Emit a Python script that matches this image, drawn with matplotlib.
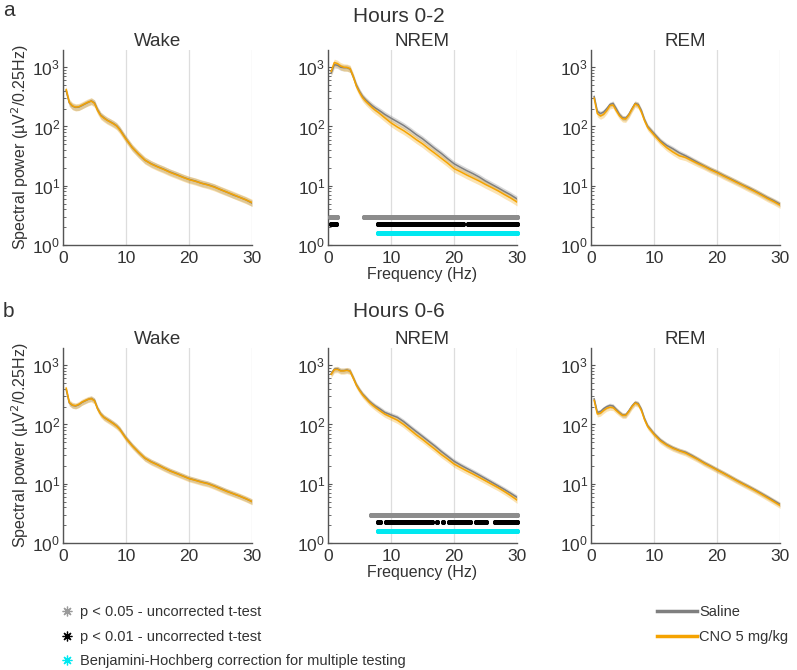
import numpy as np
import matplotlib
matplotlib.use("Agg")
import matplotlib.pyplot as plt
from matplotlib.lines import Line2D

plt.rcParams['font.family'] = ['Liberation Sans', 'DejaVu Sans']

# ---------------- data ----------------
freq = [0.5, 1, 1.5, 2, 2.5, 3, 3.5, 4, 4.5, 5, 5.5, 6, 6.5, 7, 7.5, 8, 8.5, 9,
        10, 11, 12, 13, 14, 15, 16, 17, 18, 19, 20, 21, 22, 23, 24, 25, 26, 27, 28, 29, 30]

wake_a_saline = [400, 250, 220, 210, 212, 225, 240, 255, 270, 250, 190, 155, 140, 128, 120, 112, 103, 90,
                 62, 44, 34, 27, 23.5, 21, 19, 17, 15.5, 14, 12.8, 12, 11, 10.4, 9.6, 8.6, 7.8, 7.0, 6.4, 5.8, 5.1]
wake_a_cno = [420, 255, 222, 212, 215, 228, 243, 258, 268, 245, 185, 152, 138, 127, 119, 111, 102, 88,
              61, 44, 34, 27, 23.3, 20.8, 18.8, 16.8, 15.3, 13.9, 12.7, 11.9, 11, 10.3, 9.5, 8.6, 7.8, 7.1, 6.4, 5.8, 5.2]

nrem_a_saline = [800, 1100, 1080, 1000, 980, 980, 930, 700, 500, 390, 320, 280, 250, 225, 205, 190, 175, 160,
                 138, 120, 104, 88, 73, 62, 51, 42, 35, 28.5, 23.5, 20.5, 18, 16, 14, 12, 10.5, 9.2, 8.0, 7.0, 6.0]
nrem_a_cno = [850, 1200, 1150, 1050, 1000, 990, 950, 700, 480, 375, 305, 265, 235, 208, 188, 172, 155, 140,
              115, 98, 85, 72, 60, 51, 42, 35, 29, 24, 19.5, 17.3, 15.2, 13.5, 12, 10.5, 9.3, 8.2, 7.1, 6.2, 5.3]

rem_a_saline = [320, 180, 165, 175, 200, 235, 245, 200, 160, 140, 138, 160, 200, 245, 235, 185, 130, 100,
                76, 58, 48, 42, 36, 32, 28, 24.5, 21.5, 19, 17, 15, 13.3, 11.8, 10.4, 9.3, 8.2, 7.2, 6.3, 5.6, 4.9]
rem_a_cno = [300, 165, 150, 160, 185, 225, 230, 185, 152, 135, 133, 155, 195, 240, 225, 175, 125, 96,
             72, 55, 44, 37, 32, 30, 26.5, 23.5, 21, 18.5, 16.6, 14.6, 13, 11.5, 10.2, 9.0, 8.0, 7.0, 6.1, 5.4, 4.7]

wake_b_saline = [390, 230, 210, 205, 215, 235, 250, 265, 275, 255, 185, 150, 132, 122, 113, 104, 95, 84,
                 59, 44, 34, 27, 23.5, 21, 18.5, 16.5, 15, 13.6, 12.3, 11.5, 10.7, 10.1, 9.2, 8.3, 7.5, 6.8, 6.2, 5.6, 5.0]
wake_b_cno = [410, 235, 212, 207, 218, 238, 252, 266, 272, 250, 182, 148, 131, 121, 112, 103, 94, 83,
              58, 43.5, 34, 27, 23.3, 20.8, 18.4, 16.4, 14.9, 13.5, 12.2, 11.4, 10.6, 10.0, 9.1, 8.2, 7.4, 6.8, 6.2, 5.6, 5.0]

nrem_b_saline = [720, 860, 870, 810, 810, 830, 800, 620, 470, 385, 325, 285, 250, 225, 205, 190, 175, 160,
                 145, 132, 112, 92, 76, 63, 52, 43, 35, 29, 24, 20.8, 18.2, 16, 14, 12.2, 10.6, 9.2, 8.0, 6.9, 5.9]
nrem_b_cno = [700, 840, 850, 800, 800, 820, 790, 610, 460, 375, 315, 275, 240, 215, 195, 178, 163, 150,
              133, 118, 100, 82, 67, 56, 46, 38, 31, 26, 21.5, 18.8, 16.5, 14.6, 12.8, 11.2, 9.8, 8.6, 7.4, 6.3, 5.3]

rem_b_saline = [270, 160, 165, 185, 200, 210, 205, 180, 160, 145, 145, 170, 205, 235, 225, 180, 125, 95,
                70, 55, 46, 40.5, 36.5, 34, 30, 26, 22.5, 19.8, 17.3, 15.2, 13.3, 11.6, 10.2, 9.0, 7.9, 6.9, 6.0, 5.2, 4.5]
rem_b_cno = [255, 150, 155, 172, 188, 195, 192, 172, 155, 142, 142, 165, 200, 230, 218, 172, 120, 92,
             68, 53, 45, 39.5, 36, 33, 29, 25.5, 22, 19.4, 17, 15, 13.1, 11.4, 10, 8.8, 7.7, 6.7, 5.8, 5.0, 4.3]

# relative SEM of each panel (saline, CNO)
sem_rel = {'wake_a': (0.12, 0.14), 'nrem_a': (0.12, 0.14), 'rem_a': (0.10, 0.12),
           'wake_b': (0.10, 0.12), 'nrem_b': (0.10, 0.12), 'rem_b': (0.09, 0.11)}

# significance ranges (Hz), tested every 0.25 Hz
sig_step = 0.25
sig_a_p05 = [(0.25, 1.5), (5.75, 7.5), (8.0, 30.0)]
sig_a_p01 = [(0.5, 1.25), (8.0, 21.5), (22.25, 25.5), (26.0, 30.0)]
sig_a_bh = [(8.0, 30.0)]
sig_b_p05 = [(6.75, 30.0)]
sig_b_p01 = [(8.0, 8.25), (9.25, 16.5), (17.25, 17.25), (18.25, 18.25), (19.25, 22.5), (23.5, 25.0), (26.5, 30.0)]
sig_b_bh = [(8.0, 30.0)]

row_titles = ['Hours 0-2', 'Hours 0-6']
row_letters = ['a', 'b']
col_titles = ['Wake', 'NREM', 'REM']

# ---------------- style ----------------
SAL = '#7f7f7f'
CNO = '#f5a300'
SPINE = '#555555'
TXT = '#333333'
ASTER = (8, 2, 0)

fig = plt.figure(figsize=(7.97, 6.70), dpi=100)
W, H = 797, 670

def px_axes(left, top, width, height):
    return fig.add_axes([left / W, 1 - (top + height) / H, width / W, height / H])

lefts = [63, 328, 591]
tops = [50, 348]
aw, ah = 189, 195

panels = [
    [('wake_a', wake_a_saline, wake_a_cno), ('nrem_a', nrem_a_saline, nrem_a_cno), ('rem_a', rem_a_saline, rem_a_cno)],
    [('wake_b', wake_b_saline, wake_b_cno), ('nrem_b', nrem_b_saline, nrem_b_cno), ('rem_b', rem_b_saline, rem_b_cno)],
]
sigs = [(sig_a_p05, sig_a_p01, sig_a_bh), (sig_b_p05, sig_b_p01, sig_b_bh)]

def expand(ranges):
    pts = []
    for s, e in ranges:
        pts.extend(np.arange(s, e + 1e-9, sig_step))
    return np.array(pts)

f = np.array(freq)
for r in range(2):
    for c in range(3):
        key, sal, cno = panels[r][c]
        ax = px_axes(lefts[c], tops[r], aw, ah)
        sal = np.array(sal, float)
        cno = np.array(cno, float)
        ss, sc = sem_rel[key]
        ax.fill_between(f, sal * (1 - ss), sal * (1 + ss), color=SAL, alpha=0.3, lw=0, zorder=2)
        ax.fill_between(f, cno * (1 - sc), cno * (1 + sc), color=CNO, alpha=0.3, lw=0, zorder=2)
        ax.plot(f, sal, color=SAL, lw=1.1, zorder=3)
        ax.plot(f, cno, color=CNO, lw=1.1, zorder=4)
        ax.set_yscale('log')
        ax.set_ylim(1, 1950)
        ax.set_xlim(0, 30)
        ax.set_xticks([0, 10, 20, 30])
        ax.grid(axis='x', color='#dddddd', lw=0.9, zorder=0)
        ax.set_axisbelow(True)
        for s in ['top', 'right']:
            ax.spines[s].set_visible(False)
        for s in ['left', 'bottom']:
            ax.spines[s].set_color(SPINE)
            ax.spines[s].set_linewidth(1.0)
        ax.tick_params(axis='both', which='major', labelsize=12.5, colors=SPINE, labelcolor=TXT,
                       length=3, width=0.8, direction='in', pad=2)
        ax.tick_params(axis='x', which='major', length=0, pad=4)
        ax.tick_params(axis='y', which='minor', length=2, width=0.6, colors=SPINE, direction='in')
        ax.set_title(col_titles[c], fontsize=13.5, color=TXT, pad=3)
        if c == 0:
            ax.set_ylabel('Spectral power (µV$^2$/0.25Hz)', fontsize=11.5, color=TXT, labelpad=1)
        if c == 1:
            ax.set_xlabel('Frequency (Hz)', fontsize=11.5, color=TXT, labelpad=1)
            p05, p01, bh = sigs[r]
            for pts, col, yv in [(expand(p05), '#8c8c8c', 3.0), (expand(p01), 'black', 2.3),
                                 (expand(bh), '#00e8f0', 1.6)]:
                ax.plot(pts, np.full(len(pts), yv), linestyle='none', marker=ASTER, ms=3.6,
                        color=col, mew=0.9, zorder=5, clip_on=False)

    ytitle = [17, 311][r]
    fig.text(0.5, 1 - ytitle / H, row_titles[r], ha='center', va='center', fontsize=15, color=TXT)
    fig.text(3 / W, 1 - [10, 311][r] / H, row_letters[r], ha='left', va='center', fontsize=15, color=TXT)

# legends
h1 = [Line2D([], [], ls='none', marker=ASTER, ms=7, color='#9a9a9a', mew=0.9),
      Line2D([], [], ls='none', marker=ASTER, ms=7, color='black', mew=0.9),
      Line2D([], [], ls='none', marker=ASTER, ms=7, color='#00e8f0', mew=0.9)]
l1 = ['p < 0.05 - uncorrected t-test', 'p < 0.01 - uncorrected t-test',
      'Benjamini-Hochberg correction for multiple testing']
leg1 = fig.legend(h1, l1, loc='upper left', bbox_to_anchor=(52 / W, 1 - 598 / H), frameon=False,
                  handlelength=1.0, handletextpad=0.45, labelspacing=0.72, borderpad=0,
                  prop={'size': 10.5})
for t in leg1.get_texts():
    t.set_color(TXT)

h2 = [Line2D([], [], color=SAL, lw=2.5), Line2D([], [], color=CNO, lw=2.5)]
l2 = ['Saline', 'CNO 5 mg/kg']
leg2 = fig.legend(h2, l2, loc='upper left', bbox_to_anchor=(650 / W, 1 - 598 / H), frameon=False,
                  handlelength=2.7, handletextpad=0.15, labelspacing=0.72, borderpad=0,
                  prop={'size': 10.5})
for t in leg2.get_texts():
    t.set_color(TXT)

fig.savefig('out.png', dpi=100)
